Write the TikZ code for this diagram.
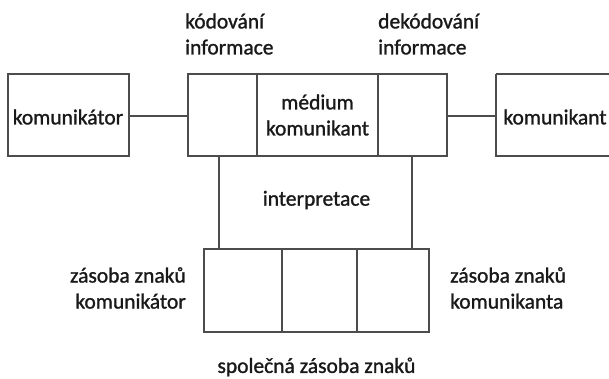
\documentclass[tikz,border=0pt]{standalone}
\usepackage{fontspec}
\setmainfont{Carlito}
\newfontfamily\lblfont[FakeBold=1.2]{Carlito}
\begin{document}
\begin{tikzpicture}[x=1pt,y=-1pt,
  box/.style={draw=black!70,line width=1.1pt},
  conn/.style={draw=black!70,line width=1.1pt},
  lbl/.style={font=\lblfont\fontsize{21.5}{26}\selectfont,align=center,inner sep=0pt,text=black!90},
  lbll/.style={font=\lblfont\fontsize{21.5}{26}\selectfont,align=left,inner sep=0pt,text=black!90}]
\useasboundingbox (0,0) rectangle (609,378);
% boxes
\draw[box] (8,74) rectangle (129,156);
\node[lbl] (kor) at (68,117) {komunikátor};
\coordinate (korE) at (129,116);
\draw[box] (188,74) rectangle (447,156);
\draw[box] (257,74) -- (257,156);
\draw[box] (378,74) -- (378,156);
\coordinate (midW) at (188,116);
\coordinate (midE) at (447,116);
\draw[box] (496,74) -- (611,74);
\draw[box] (496,74) -- (496,156) -- (611,156);
\node[lbl] (kant) at (555,117) {komunikant};
\coordinate (kantW) at (496,116);
\draw[conn] (korE) -- (midW);
\draw[conn] (midE) -- (kantW);
% medium
\node[lbl] (med) at (317.5,115) {médium\\komunikant};
% top labels
\node[lbll,anchor=west] (kod) at (185,34) {kódování\\informace};
\node[lbll,anchor=west] (dek) at (378,34) {dekódování\\informace};
% interpretace
\coordinate (v1a) at (219,156);
\coordinate (v1b) at (219,249);
\coordinate (v2a) at (412,156);
\coordinate (v2b) at (412,249);
\draw[conn] (v1a) -- (v1b);
\draw[conn] (v2a) -- (v2b);
\node[lbl] (int) at (316.5,200) {interpretace};
% bottom box
\draw[box] (204,249) rectangle (429,332);
\draw[box] (282,249) -- (282,332);
\draw[box] (357,249) -- (357,332);
\node[lbll,anchor=east,align=right] (zkor) at (186,288) {zásoba znaků\\komunikátor};
\node[lbll,anchor=west] (zkant) at (450,288) {zásoba znaků\\komunikanta};
\node[lbl] (spol) at (316.5,367) {společná zásoba znaků};
\end{tikzpicture}
\end{document}
